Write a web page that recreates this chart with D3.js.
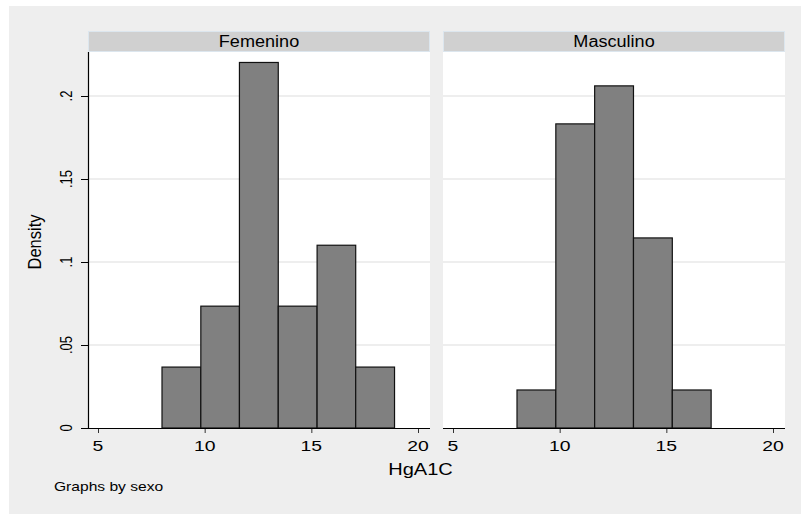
<!DOCTYPE html>
<html lang="es">
<head>
<meta charset="utf-8">
<title>HgA1C por sexo</title>
<script src="https://d3js.org/d3.v7.min.js"></script>
<style>
  body { margin: 0; background: #fff; }
  svg text { font-family: "Liberation Sans", Arial, sans-serif; fill: #000; }
</style>
</head>
<body>
<div id="viz"></div>
<script>
// panels (Graphs by sexo)
var panels = ["Femenino", "Masculino"];
// bin edges and density per panel
var femEdges = [8, 9.82, 11.63, 13.45, 15.27, 17.08, 18.9];
var femDensity = [0.0367, 0.0734, 0.2202, 0.0734, 0.1101, 0.0367];
var mascEdges = [8, 9.82, 11.64, 13.46, 15.28, 17.1];
var mascDensity = [0.0229, 0.1832, 0.2061, 0.1145, 0.0229];
var xTicks = [5, 10, 15, 20];
var yTicks = [0, 0.05, 0.1, 0.15, 0.2];
var yTickLabels = ["0", ".05", ".1", ".15", ".2"];

var W = 801, H = 514;
var svg = d3.select("#viz").append("svg").attr("width", W).attr("height", H);

svg.append("rect").attr("x", 9).attr("y", 6).attr("width", W - 9).attr("height", H - 6).attr("fill", "#eeeeee");

var plotTop = 52, plotBottom = 428, panelW = 342;
var panelX = [88, 443];

var y = d3.scaleLinear().domain([0, 0.2]).range([plotBottom, 96]);

function bins(edges, dens) {
  return dens.map(function(d, i) { return {x0: edges[i], x1: edges[i + 1], d: d}; });
}
var panelData = [bins(femEdges, femDensity), bins(mascEdges, mascDensity)];

panels.forEach(function(name, p) {
  var left = panelX[p];
  var x = d3.scaleLinear().domain([5, 20]).range([left + 10, left + 330]);
  var g = svg.append("g");

  g.append("rect").attr("x", left).attr("y", plotTop).attr("width", panelW)
    .attr("height", plotBottom - plotTop).attr("fill", "#fff");

  // strip
  g.append("rect").attr("x", left + 0.5).attr("y", 31.5).attr("width", panelW - 1).attr("height", 20)
    .attr("fill", "#d0d0d0").attr("stroke", "#dce6ee").attr("stroke-width", 1);
  g.append("text").attr("text-anchor", "middle").attr("font-size", 16)
    .attr("transform", "translate(" + (left + panelW / 2) + ",46.5) scale(1.13,1)")
    .text(name);

  // grid
  g.selectAll(".grid").data(yTicks.filter(function(t) { return t > 0; })).enter()
    .append("line")
    .attr("x1", left).attr("x2", left + panelW)
    .attr("y1", function(t) { return y(t); }).attr("y2", function(t) { return y(t); })
    .attr("stroke", "#e8e8e8").attr("stroke-width", 1.5);

  // bars
  g.selectAll(".bar").data(panelData[p]).enter().append("rect")
    .attr("x", function(b) { return x(b.x0); })
    .attr("width", function(b) { return x(b.x1) - x(b.x0); })
    .attr("y", function(b) { return y(b.d); })
    .attr("height", function(b) { return plotBottom - y(b.d); })
    .attr("fill", "#808080").attr("stroke", "#111").attr("stroke-width", 1.2);

  // x axis
  var xa = g.append("g").attr("transform", "translate(0," + plotBottom + ")")
    .call(d3.axisBottom(x).tickValues(xTicks).tickSize(5).tickPadding(3).tickFormat(d3.format("d")));
  xa.select(".domain").remove();
  xa.selectAll("line").attr("stroke", "#333");
  xa.selectAll("text").remove();
  g.append("line").attr("x1", p === 0 ? left - 7 : left).attr("x2", left + panelW)
    .attr("y1", plotBottom + 0.5).attr("y2", plotBottom + 0.5).attr("stroke", "#000").attr("stroke-width", 1.2);
  g.selectAll(".xl").data(xTicks).enter().append("text")
    .attr("text-anchor", "middle").attr("font-size", 15.5)
    .attr("transform", function(t) { return "translate(" + x(t) + ",451) scale(1.25,1)"; })
    .text(function(t) { return t; });

  if (p === 0) {
    g.append("line").attr("x1", left + 0.5).attr("x2", left + 0.5)
      .attr("y1", plotTop).attr("y2", plotBottom).attr("stroke", "#000").attr("stroke-width", 1.2);
    g.selectAll(".yt").data(yTicks).enter().append("line")
      .attr("x1", left - 7).attr("x2", left)
      .attr("y1", function(t) { return y(t) + 0.5; }).attr("y2", function(t) { return y(t) + 0.5; })
      .attr("stroke", "#000").attr("stroke-width", 1);
    g.selectAll(".yl").data(yTicks).enter().append("text")
      .attr("text-anchor", "middle").attr("font-size", 13)
      .attr("transform", function(t) { return "translate(72," + y(t) + ") scale(1.2,1) rotate(-90)"; })
      .text(function(t, i) { return yTickLabels[i]; });
  }
});

svg.append("text").attr("text-anchor", "middle").attr("font-size", 16.5)
  .attr("transform", "translate(41,242) scale(1.15,1) rotate(-90)").text("Density");
svg.append("text").attr("text-anchor", "middle").attr("font-size", 17)
  .attr("transform", "translate(420.5,475) scale(1.18,1)").text("HgA1C");
svg.append("text").attr("font-size", 13)
  .attr("transform", "translate(54,491) scale(1.2,1)").text("Graphs by sexo");
</script>
</body>
</html>
